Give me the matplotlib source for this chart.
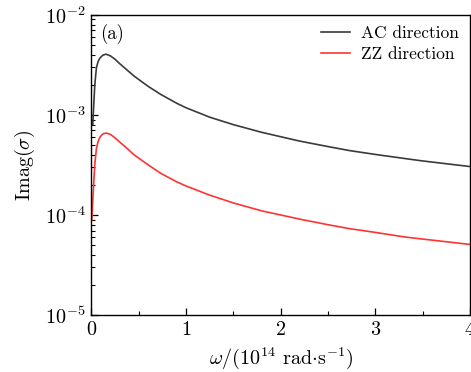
import numpy as np
import matplotlib
matplotlib.use("Agg")
from matplotlib import pyplot as plt
from matplotlib.ticker import MultipleLocator, LogLocator, NullFormatter

plt.rcParams["font.family"] = "serif"
plt.rcParams["font.serif"] = ["cmr10"]
plt.rcParams["mathtext.fontset"] = "cm"
plt.rcParams["axes.formatter.use_mathtext"] = True
plt.rcParams["axes.unicode_minus"] = False

# values
omega_ac = [0.015, 0.024, 0.036, 0.053, 0.07, 0.09, 0.12, 0.155, 0.2, 0.25, 0.3,
            0.37, 0.45, 0.6, 0.73, 0.9, 1.0, 1.25, 1.5, 1.8, 2.2, 2.5, 2.73,
            3.0, 3.3, 3.5, 4.0]
imag_ac = [8.0e-4, 1.2e-3, 2.0e-3, 2.95e-3, 3.4e-3, 3.7e-3, 3.95e-3, 4.05e-3,
           3.9e-3, 3.6e-3, 3.25e-3, 2.85e-3, 2.45e-3, 1.93e-3, 1.61e-3, 1.31e-3,
           1.18e-3, 9.5e-4, 8.0e-4, 6.7e-4, 5.48e-4, 4.83e-4, 4.4e-4, 4.03e-4,
           3.68e-4, 3.47e-4, 3.05e-4]

omega_zz = [0.005, 0.015, 0.024, 0.036, 0.053, 0.07, 0.09, 0.12, 0.155, 0.2, 0.25,
            0.3, 0.37, 0.45, 0.6, 0.73, 0.9, 1.0, 1.25, 1.5, 1.8, 2.2, 2.5, 2.73,
            3.0, 3.3, 3.5, 4.0]
imag_zz = [8.9e-5, 1.4e-4, 2.0e-4, 3.2e-4, 4.6e-4, 5.4e-4, 6.0e-4, 6.45e-4, 6.6e-4,
           6.4e-4, 5.9e-4, 5.35e-4, 4.7e-4, 4.0e-4, 3.17e-4, 2.62e-4, 2.15e-4,
           1.95e-4, 1.58e-4, 1.32e-4, 1.1e-4, 9.1e-5, 8.0e-5, 7.3e-5, 6.7e-5,
           6.05e-5, 5.75e-5, 5.08e-5]

fig = plt.figure(figsize=(4.71, 3.72), dpi=100)
ax = fig.add_axes([0.194, 0.153, 0.804, 0.807])

ax.plot(omega_ac, imag_ac, color="#3a3a3a", lw=1.2, label="AC direction")
ax.plot(omega_zz, imag_zz, color="#ff3333", lw=1.2, label="ZZ direction")

ax.set_yscale("log")
ax.set_xlim(0, 4)
ax.set_ylim(1e-5, 1e-2)
ax.xaxis.set_major_locator(MultipleLocator(1))
ax.xaxis.set_minor_locator(MultipleLocator(0.5))
ax.yaxis.set_major_locator(LogLocator(base=10, numticks=10))
ax.yaxis.set_minor_locator(LogLocator(base=10, subs=np.arange(2, 10), numticks=10))
ax.yaxis.set_minor_formatter(NullFormatter())

ax.tick_params(which="both", direction="in", labelsize=14.5, top=False, right=False)
ax.tick_params(which="major", length=5, width=0.9, pad=4)
ax.tick_params(which="minor", length=3, width=0.8)
for s in ax.spines.values():
    s.set_linewidth(1.0)

ax.set_ylabel(r"Imag$(\sigma)$", fontsize=14.5, labelpad=6)
ax.set_xlabel(r"$\omega/(10^{14}$ rad$\cdot$s$^{-1})$", fontsize=14.5, labelpad=5)

ax.text(0.022, 0.97, "(a)", transform=ax.transAxes, fontsize=13.5, va="top", ha="left")
ax.legend(loc="upper right", frameon=False, fontsize=12.5, handlelength=1.7,
          handletextpad=0.6, borderaxespad=0.25, labelspacing=0.3)

fig.savefig("out.png", dpi=100)
